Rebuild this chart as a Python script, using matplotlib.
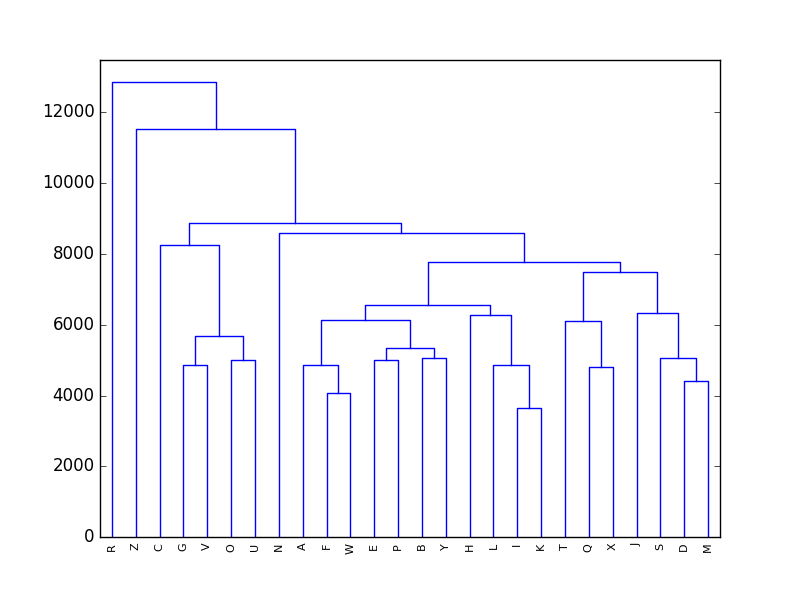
import numpy as np
import matplotlib
matplotlib.use("Agg")
import matplotlib.pyplot as plt

plt.style.use("classic")

# Leaf labels in display order
leaves = ["R", "Z", "C", "G", "V", "O", "U", "N", "A", "F", "W", "E", "P",
          "B", "Y", "H", "L", "I", "K", "T", "Q", "X", "J", "S", "D", "M"]

# Merges, scipy-linkage style: ids 0..25 are leaves, 26+ are new clusters
merge_left = [17, 9, 24, 20, 3, 8, 16, 5, 11, 13, 23, 34, 30, 19, 31, 15,
              22, 40, 39, 43, 7, 2, 47, 1, 0]
merge_right = [18, 10, 25, 21, 4, 27, 26, 6, 12, 14, 28, 35, 33, 29, 37, 32,
               36, 41, 42, 44, 45, 38, 46, 48, 49]
merge_height = [3660, 4085, 4425, 4800, 4856, 4876, 4876, 4997, 5017, 5054,
                5054, 5356, 5675, 6099, 6127, 6288, 6344, 6570, 7474, 7784,
                8575, 8264, 8857, 11511, 12838]

n = len(leaves)
xpos = {i: 5 + 10 * i for i in range(n)}
hpos = {i: 0.0 for i in range(n)}

fig = plt.figure(figsize=(8, 5.97), dpi=100)
ax = fig.add_subplot(111)

for k, (l, r, h) in enumerate(zip(merge_left, merge_right, merge_height)):
    cid = n + k
    xl, xr = xpos[l], xpos[r]
    ax.plot([xl, xl, xr, xr], [hpos[l], h, h, hpos[r]], color="b", lw=1)
    xpos[cid] = (xl + xr) / 2.0
    hpos[cid] = h

ax.set_xlim(0, 10 * n)
ax.set_ylim(0, max(merge_height) * 1.05)
ax.set_xticks([5 + 10 * i for i in range(n)])
ax.set_xticklabels(leaves, rotation=90, fontsize=8)
for line in ax.get_xticklines():
    line.set_visible(False)

fig.savefig("out.png", dpi=100)
